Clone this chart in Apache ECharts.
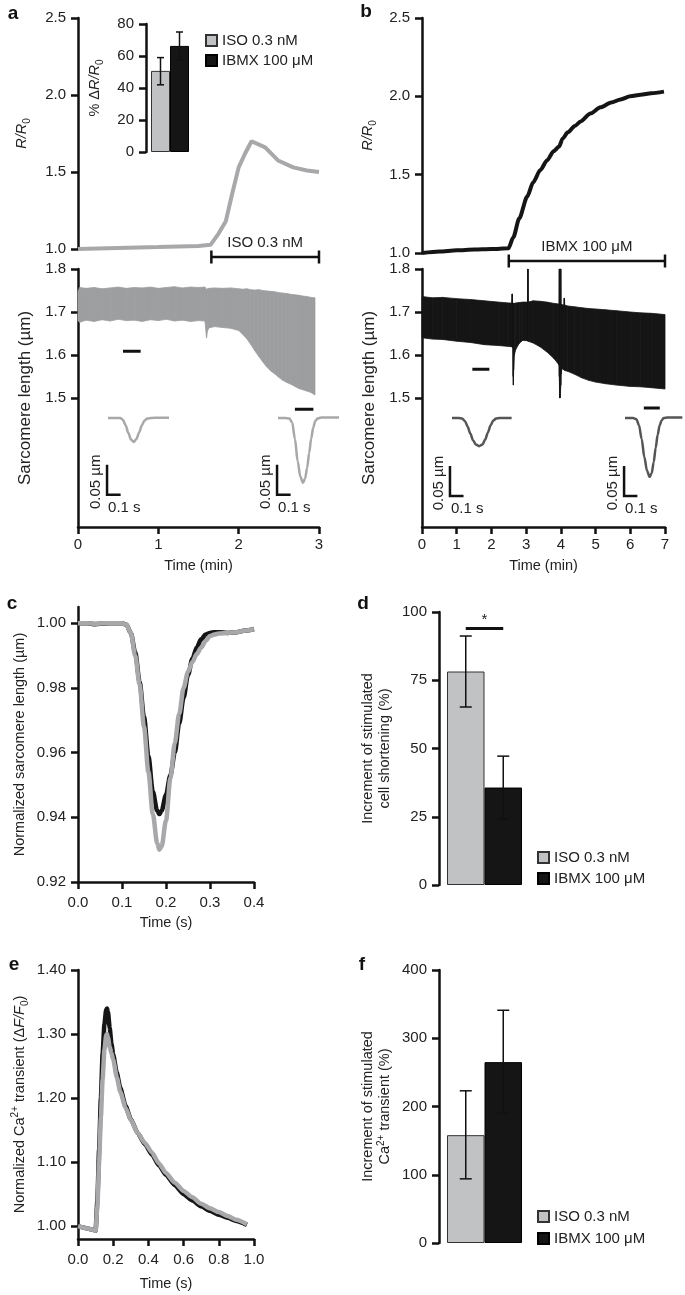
<!DOCTYPE html>
<html><head><meta charset="utf-8">
<script src="https://cdn.jsdelivr.net/npm/echarts@6/dist/echarts.min.js"></script>
<style>html,body{margin:0;padding:0;background:#fff}#c{width:685px;height:1295px}</style>
</head><body><div id="c"></div>
<script>
// ---------------- DATA ----------------
const treatments = ['ISO 0.3 nM', 'IBMX 100 μM'];

// Panel a (top): R/R0 during ISO
const aTime  = [0, 0.5, 1.0, 1.5, 1.65, 1.75, 1.84, 1.92, 2.0, 2.08, 2.16, 2.33, 2.49, 2.68, 2.85, 3.0];
const aRatio = [1.0, 1.007, 1.013, 1.02, 1.027, 1.10, 1.18, 1.36, 1.53, 1.62, 1.70, 1.66, 1.575, 1.53, 1.51, 1.50];
// Panel b (top): R/R0 during IBMX
const bTime  = [0, 0.5, 1.0, 1.5, 2.0, 2.49, 2.63, 2.8, 3.03, 3.2, 3.41, 3.6, 3.79, 3.95, 4.05, 4.2, 4.4, 4.57, 4.85, 5.14, 5.45, 5.72, 6.0, 6.3, 6.6, 6.97];
const bRatio = [1.0, 1.01, 1.017, 1.022, 1.025, 1.03, 1.10, 1.22, 1.36, 1.45, 1.53, 1.59, 1.65, 1.68, 1.73, 1.77, 1.81, 1.84, 1.89, 1.93, 1.96, 1.98, 2.0, 2.01, 2.02, 2.03];
const ratioTicks = [1.0, 1.5, 2.0, 2.5];
const aStim = [1.66, 3.0];
const bStim = [2.5, 7.0];

// Inset bar chart (% ΔR/R0)
const insetMean = [50.7, 66.3];
const insetLow  = [42, 57.5];
const insetHigh = [59, 75];
const insetTicks = [0, 20, 40, 60, 80];

// Sarcomere length envelopes [time (min), upper, lower]
const aBand = [
 [0,1.748,1.680],[0.02,1.757,1.676],[0.1,1.755,1.681],[0.2,1.757,1.678],[0.3,1.754,1.682],
 [0.4,1.756,1.679],[0.5,1.758,1.683],[0.6,1.755,1.680],[0.7,1.757,1.681],[0.8,1.756,1.678],
 [0.9,1.758,1.682],[1.0,1.755,1.680],[1.1,1.757,1.683],[1.2,1.759,1.679],[1.3,1.756,1.681],
 [1.4,1.758,1.678],[1.5,1.757,1.680],[1.58,1.758,1.679],[1.6,1.752,1.640],[1.61,1.754,1.655],
 [1.63,1.755,1.663],[1.7,1.756,1.666],[1.8,1.755,1.664],[1.9,1.756,1.662],[2.0,1.754,1.657],
 [2.05,1.753,1.648],[2.1,1.754,1.638],[2.15,1.752,1.625],[2.2,1.751,1.610],[2.25,1.752,1.597],
 [2.3,1.750,1.584],[2.35,1.749,1.572],[2.4,1.748,1.563],[2.45,1.747,1.556],[2.5,1.745,1.548],
 [2.55,1.744,1.541],[2.6,1.743,1.536],[2.65,1.741,1.532],[2.7,1.740,1.527],[2.75,1.739,1.522],
 [2.8,1.737,1.519],[2.85,1.736,1.516],[2.9,1.734,1.513],[2.95,1.733,1.507]
];
const bBand = [
 [0,1.736,1.640],[0.3,1.733,1.637],[0.6,1.734,1.636],[1.0,1.731,1.632],[1.4,1.729,1.629],
 [1.8,1.726,1.624],[2.2,1.723,1.622],[2.5,1.721,1.620],[2.59,1.721,1.619],[2.595,1.742,1.619],
 [2.605,1.742,1.618],[2.61,1.721,1.618],[2.62,1.720,1.617],[2.625,1.720,1.550],[2.632,1.720,1.530],
 [2.64,1.720,1.565],[2.66,1.720,1.600],[2.7,1.721,1.613],[2.8,1.722,1.627],[2.9,1.723,1.634],
 [3.04,1.723,1.633],[3.045,1.800,1.633],[3.055,1.800,1.632],[3.06,1.723,1.632],[3.2,1.726,1.628],
 [3.4,1.725,1.619],[3.6,1.723,1.607],[3.8,1.720,1.592],[3.9,1.719,1.582],[3.95,1.718,1.576],
 [3.955,1.800,1.550],[3.965,1.800,1.500],[3.98,1.800,1.500],[4.0,1.800,1.530],[4.005,1.718,1.555],
 [4.03,1.717,1.568],[4.09,1.716,1.566],[4.095,1.732,1.565],[4.105,1.732,1.565],[4.11,1.716,1.564],
 [4.2,1.714,1.562],[4.4,1.712,1.555],[4.6,1.710,1.547],[4.8,1.708,1.541],[5.0,1.707,1.537],
 [5.3,1.705,1.533],[5.6,1.703,1.530],[6.0,1.700,1.527],[6.3,1.698,1.526],[6.6,1.697,1.524],
 [7.0,1.694,1.521]
];
const sarcTicks = [1.5, 1.6, 1.7, 1.8];
const aMinTicks = [0, 1, 2, 3];
const bMinTicks = [0, 1, 2, 3, 4, 5, 6, 7];
// time-window markers [start, end, level]
const aMarkers = [[0.56, 0.78, 1.609], [2.70, 2.93, 1.474]];
const bMarkers = [[1.45, 1.94, 1.567], [6.39, 6.85, 1.477]];

// single twitches [time (s), Δ length (µm)]
const twitchAL = [[0,0],[0.06,0],[0.09,0],[0.11,-0.003],[0.13,-0.012],[0.15,-0.025],[0.17,-0.036],[0.19,-0.040],[0.21,-0.035],[0.23,-0.024],[0.25,-0.012],[0.27,-0.004],[0.29,-0.001],[0.32,0],[0.38,0.0005],[0.45,0.0005]];
const twitchAR = [[0,0],[0.05,0],[0.085,-0.001],[0.105,-0.008],[0.125,-0.035],[0.145,-0.072],[0.165,-0.098],[0.185,-0.108],[0.2,-0.101],[0.215,-0.083],[0.23,-0.058],[0.245,-0.034],[0.26,-0.016],[0.275,-0.005],[0.29,-0.001],[0.32,0.001],[0.45,0.001]];
const twitchBL = [[0,0],[0.05,0],[0.075,-0.001],[0.095,-0.005],[0.115,-0.014],[0.135,-0.026],[0.155,-0.037],[0.175,-0.044],[0.2,-0.047],[0.225,-0.044],[0.245,-0.036],[0.265,-0.024],[0.285,-0.012],[0.305,-0.004],[0.325,-0.001],[0.35,0],[0.44,0]];
const twitchBR = [[0,0],[0.06,0],[0.085,-0.002],[0.105,-0.012],[0.125,-0.035],[0.145,-0.065],[0.165,-0.088],[0.185,-0.098],[0.2,-0.092],[0.215,-0.074],[0.23,-0.05],[0.245,-0.028],[0.26,-0.012],[0.275,-0.004],[0.29,0],[0.32,0.001],[0.43,0.001]];
const scaleBar = [0.1, 0.05]; // s, µm
const scaleLabels = ['0.1 s', '0.05 µm'];

// Panel c: normalized sarcomere length
const cTime = [0,0.02,0.04,0.06,0.08,0.1,0.11,0.12,0.13,0.14,0.15,0.16,0.17,0.18,0.185,0.19,0.2,0.21,0.22,0.23,0.24,0.25,0.26,0.27,0.28,0.29,0.3,0.31,0.32,0.34,0.36,0.38,0.4];
const cIso  = [1.0,1.0,0.9998,1.0,1.0,1.0,0.9995,0.997,0.990,0.981,0.968,0.954,0.941,0.932,0.930,0.931,0.939,0.952,0.963,0.972,0.980,0.985,0.988,0.9905,0.9925,0.9945,0.996,0.9965,0.9968,0.997,0.9972,0.9977,0.9982];
const cIbmx = [1.0,1.0,0.9997,0.9999,1.0,1.0,0.9995,0.997,0.991,0.982,0.971,0.959,0.948,0.942,0.941,0.942,0.947,0.953,0.960,0.969,0.977,0.984,0.989,0.9925,0.995,0.9965,0.997,0.9972,0.9972,0.997,0.9972,0.9977,0.9982];
const cYTicks = [0.92, 0.94, 0.96, 0.98, 1.00];
const cXTicks = [0, 0.1, 0.2, 0.3, 0.4];

// Panel d: cell shortening increment
const dMean = [78.2, 35.7];
const dLow  = [65.2, 24.2];
const dHigh = [91.2, 47.2];
const dTicks = [0, 25, 50, 75, 100];
const dSig = 94;

// Panel e: Ca2+ transient
const eTime = [0,0.03,0.06,0.09,0.1,0.11,0.12,0.13,0.14,0.15,0.16,0.165,0.17,0.18,0.19,0.2,0.22,0.24,0.27,0.3,0.34,0.38,0.42,0.46,0.5,0.55,0.6,0.65,0.7,0.75,0.8,0.85,0.9,0.96];
const eIso  = [1.0,0.998,0.996,0.994,0.993,1.03,1.10,1.17,1.23,1.275,1.298,1.30,1.295,1.28,1.27,1.26,1.233,1.21,1.185,1.166,1.145,1.13,1.115,1.098,1.083,1.068,1.055,1.045,1.035,1.028,1.022,1.016,1.01,1.003];
const eIbmx = [1.0,0.998,0.996,0.994,0.993,1.04,1.12,1.20,1.27,1.315,1.338,1.34,1.335,1.31,1.285,1.268,1.24,1.216,1.188,1.167,1.145,1.128,1.112,1.095,1.08,1.064,1.05,1.04,1.031,1.024,1.018,1.013,1.008,1.002];
const eYTicks = [1.0, 1.1, 1.2, 1.3, 1.4];
const eXTicks = [0, 0.2, 0.4, 0.6, 0.8, 1.0];

// Panel f: Ca2+ transient increment
const fMean = [158, 265];
const fLow  = [94, 190];
const fHigh = [223, 341];
const fTicks = [0, 100, 200, 300, 400];

// ---------------- STYLE / LAYOUT ----------------
const FONT = '"Liberation Sans", Arial, Helvetica, sans-serif';
const FS = 14.5;   // names
const TFS = 15;    // tick labels / legend
const INK = '#111';
const TXT = '#222';
const GRAY_LINE = '#a8a8aa';
const GRAY_BAR = '#c1c2c4';
const BLACK = '#151515';
const TWITCH_B = '#555';

const grids = [
  {left:78,  top:18,  width:241, height:231},  // 0 a top
  {left:78,  top:269, width:241, height:258},  // 1 a bottom
  {left:422, top:18,  width:243, height:235},  // 2 b top
  {left:422, top:269, width:243, height:258},  // 3 b bottom
  {left:151, top:24,  width:38,  height:128},  // 4 inset bars
  {left:78,  top:607, width:176, height:275},  // 5 c
  {left:447, top:612, width:75,  height:273},  // 6 d
  {left:78,  top:970, width:176, height:273},  // 7 e
  {left:447, top:970, width:75,  height:273},  // 8 f
  {left:108, top:412, width:61,  height:90},   // 9 twitch a left
  {left:278, top:412, width:61,  height:90},   // 10 twitch a right
  {left:452, top:412, width:61,  height:90},   // 11 twitch b left
  {left:625, top:412, width:61,  height:90}    // 12 twitch b right
];
const scaleCorners = [[-0.007,-0.128],[-0.007,-0.128],[-0.015,-0.13],[-0.007,-0.13]];

const rich = {
  i: {fontStyle:'italic', fontSize:FS, fontFamily:FONT, color:TXT, lineHeight:20},
  s: {fontSize:10, fontFamily:FONT, color:TXT, verticalAlign:'bottom'},
  p: {fontSize:10, fontFamily:FONT, color:TXT, verticalAlign:'top'}
};
function nameStyle(lh, fs){ return {fontSize:fs||FS, fontFamily:FONT, color:TXT, lineHeight:lh||20, rich:rich}; }

function yAx(gi, min, max, ticks, fmt, extra){
  return Object.assign({
    gridIndex:gi, type:'value', min:min, max:max,
    axisLine:{show:true, onZero:false, lineStyle:{color:INK, width:2.5}},
    axisTick:{show:true, length:7, customValues:ticks, lineStyle:{color:INK, width:2.5}},
    axisLabel:{show:true, customValues:ticks, formatter:fmt, color:TXT, fontSize:TFS, fontFamily:FONT, margin:12},
    splitLine:{show:false}
  }, extra||{});
}
function xAx(gi, min, max, ticks, fmt, margin, extra){
  return Object.assign({
    gridIndex:gi, type:'value', min:min, max:max,
    axisLine:{show:true, onZero:false, lineStyle:{color:INK, width:2.5}},
    axisTick:{show:true, length:7, customValues:ticks, lineStyle:{color:INK, width:2.5}},
    axisLabel:{show:true, customValues:ticks, formatter:fmt, color:TXT, fontSize:TFS, fontFamily:FONT, margin:margin},
    splitLine:{show:false}
  }, extra||{});
}
function hidX(gi, min, max){ return {gridIndex:gi, type:'value', min:min, max:max, show:false, splitLine:{show:false}}; }
function hidY(gi, min, max){ return {gridIndex:gi, type:'value', min:min, max:max, show:false, splitLine:{show:false}}; }
function catX(gi){ return {gridIndex:gi, type:'category', data:treatments, show:false, boundaryGap:true}; }

const f1 = v => v.toFixed(1), f2 = v => v.toFixed(2), f0 = v => String(v);
const xName = (name, gap) => ({name:name, nameLocation:'middle', nameGap:gap, nameTextStyle:nameStyle()});

const xAxis = [
  hidX(0, 0, 3),
  xAx(1, 0, 3, aMinTicks, f0, 10, xName('Time (min)', 29)),
  hidX(2, 0, 7),
  xAx(3, 0, 7, bMinTicks, f0, 10, xName('Time (min)', 29)),
  catX(4),
  xAx(5, 0, 0.4, cXTicks, f1, 13, xName('Time (s)', 31)),
  catX(6),
  xAx(7, 0, 1.0, eXTicks, f1, 13, xName('Time (s)', 35)),
  catX(8),
  hidX(9, 0, 0.45), hidX(10, 0, 0.45), hidX(11, 0, 0.45), hidX(12, 0, 0.45)
];
const yName = (name, gap, lh, fs) => ({name:name, nameLocation:'middle', nameRotate:90, nameGap:gap, nameTextStyle:nameStyle(lh, fs)});
const yAxis = [
  yAx(0, 1.0, 2.5, ratioTicks, f1, yName('{i|R/R}{s|0}', 46)),
  yAx(1, 1.2, 1.8, sarcTicks, f1, yName('Sarcomere length (µm)', 43, 20, 17)),
  yAx(2, 1.0, 2.5, ratioTicks, f1, yName('{i|R/R}{s|0}', 44)),
  yAx(3, 1.2, 1.8, sarcTicks, f1, yName('Sarcomere length (µm)', 43, 20, 17)),
  yAx(4, 0, 80, insetTicks, f0, Object.assign({offset:5}, yName('% Δ{i|R/R}{s|0}', 41))),
  yAx(5, 0.92, 1.005, cYTicks, f2, yName('Normalized sarcomere length (µm)', 48)),
  yAx(6, 0, 100, dTicks, f0, Object.assign({offset:8}, yName('Increment of stimulated\ncell shortening (%)', 46, 17))),
  yAx(7, 0.98, 1.40, eYTicks, f2, yName('Normalized Ca{p|2+} transient (Δ{i|F/F}{s|0})', 48)),
  yAx(8, 0, 400, fTicks, f0, Object.assign({offset:8}, yName('Increment of stimulated\nCa{p|2+} transient (%)', 46, 17))),
  hidY(9, -0.14, 0.01), hidY(10, -0.14, 0.01), hidY(11, -0.14, 0.01), hidY(12, -0.14, 0.01)
];

// ---------------- RENDERERS ----------------
function bandRender(rows, color){
  return function(params, api){
    const i = params.dataIndex;
    if (i >= rows.length - 1) return null;
    const a = rows[i], b = rows[i+1];
    const pts = [api.coord([a[0], a[1]]), api.coord([b[0], b[1]]), api.coord([b[0], b[2]]), api.coord([a[0], a[2]])];
    return {type:'polygon', shape:{points:pts}, style:{fill:color, stroke:color, lineWidth:0.8}};
  };
}
function errRender(capHalf){
  return function(params, api){
    const lo = api.coord([api.value(0), api.value(1)]);
    const hi = api.coord([api.value(0), api.value(2)]);
    const st = {stroke:INK, lineWidth:1.5};
    return {type:'group', children:[
      {type:'line', shape:{x1:lo[0], y1:lo[1], x2:hi[0], y2:hi[1]}, style:st},
      {type:'line', shape:{x1:hi[0]-capHalf, y1:hi[1], x2:hi[0]+capHalf, y2:hi[1]}, style:st},
      {type:'line', shape:{x1:lo[0]-capHalf, y1:lo[1], x2:lo[0]+capHalf, y2:lo[1]}, style:st}
    ]};
  };
}
function stimRender(label){
  return function(params, api){
    const p0 = api.coord([api.value(0), api.value(2)]);
    const p1 = api.coord([api.value(1), api.value(2)]);
    const y = p0[1] + 8;
    const st = {stroke:INK, lineWidth:2.5};
    return {type:'group', children:[
      {type:'line', shape:{x1:p0[0], y1:y, x2:p1[0], y2:y}, style:st},
      {type:'line', shape:{x1:p0[0], y1:y-6.5, x2:p0[0], y2:y+6.5}, style:st},
      {type:'line', shape:{x1:p1[0], y1:y-6.5, x2:p1[0], y2:y+6.5}, style:st},
      {type:'text', x:(p0[0]+p1[0])/2, y:y-14, style:{text:label, align:'center', verticalAlign:'middle', font:TFS+'px '+FONT, fill:TXT}}
    ]};
  };
}
function scaleRender(params, api){
  const c = api.coord([api.value(0), api.value(1)]);
  const top = api.coord([api.value(0), api.value(1) + api.value(3)]);
  const right = api.coord([api.value(0) + api.value(2), api.value(1)]);
  return {type:'group', children:[
    {type:'polyline', shape:{points:[top, c, right]}, style:{stroke:INK, lineWidth:2.5, fill:null}},
    {type:'text', x:c[0]-11, y:c[1]-13, rotation:Math.PI/2, style:{text:scaleLabels[1], align:'center', verticalAlign:'middle', font:TFS+'px '+FONT, fill:TXT}},
    {type:'text', x:c[0]+1, y:c[1]+13, style:{text:scaleLabels[0], align:'left', verticalAlign:'middle', font:TFS+'px '+FONT, fill:TXT}}
  ]};
}

const zip = (xs, ys) => xs.map((x, i) => [x, ys[i]]);
const barStyleIso = {color:GRAY_BAR, borderColor:'#333', borderWidth:1};
const barStyleIbmx = {color:BLACK, borderColor:'#000', borderWidth:1};

function barPair(gi, mean, extraIso){
  return [
    Object.assign({type:'bar', name:treatments[0], xAxisIndex:gi, yAxisIndex:gi, data:[mean[0], '-'], itemStyle:barStyleIso, barGap:'-100%', barCategoryGap:'0%', silent:true}, extraIso||{}),
    {type:'bar', name:treatments[1], xAxisIndex:gi, yAxisIndex:gi, data:['-', mean[1]], itemStyle:barStyleIbmx, barGap:'-100%', barCategoryGap:'0%', silent:true}
  ];
}
function errSeries(gi, low, high, cap){
  return {type:'custom', xAxisIndex:gi, yAxisIndex:gi, renderItem:errRender(cap), encode:{x:0, y:[1,2]},
          data:low.map((l, i) => [i, l, high[i]]), z:5, silent:true};
}
function lineS(gi, data, color, width, smooth, z){
  return {type:'line', xAxisIndex:gi, yAxisIndex:gi, data:data, showSymbol:false, symbol:'none',
          smooth:smooth||false, smoothMonotone:'x', lineStyle:{color:color, width:width}, itemStyle:{color:color}, z:z||3, silent:true};
}
function markerSeries(gi, list){
  return list.map(m => lineS(gi, [[m[0], m[2]], [m[1], m[2]]], INK, 3, false, 4));
}

const series = [];
series.push(...barPair(4, insetMean));
series.push(errSeries(4, insetLow, insetHigh, 3.5));
series.push(...barPair(6, dMean, {markLine:{silent:true, symbol:['none','none'], animation:false,
  lineStyle:{color:INK, width:3, type:'solid'},
  label:{show:true, formatter:'*', position:'middle', color:TXT, fontSize:15, fontFamily:FONT, distance:1},
  data:[[{coord:[treatments[0], dSig]}, {coord:[treatments[1], dSig]}]]}}));
series.push(errSeries(6, dLow, dHigh, 6));
series.push(...barPair(8, fMean));
series.push(errSeries(8, fLow, fHigh, 6));

// top ratio traces
series.push(lineS(0, zip(aTime, aRatio), GRAY_LINE, 4));
series.push(lineS(2, zip(bTime, bRatio), BLACK, 4, 0.25));
series.push({type:'custom', xAxisIndex:0, yAxisIndex:0, renderItem:stimRender('ISO 0.3 nM'), encode:{x:[0,1], y:2}, data:[[aStim[0], aStim[1], 1.0]], silent:true});
series.push({type:'custom', xAxisIndex:2, yAxisIndex:2, renderItem:stimRender('IBMX 100 μM'), encode:{x:[0,1], y:2}, data:[[bStim[0], bStim[1], 1.0]], silent:true});

// sarcomere envelopes
series.push({type:'custom', xAxisIndex:1, yAxisIndex:1, renderItem:bandRender(aBand, '#9d9ea0'), encode:{x:0, y:[1,2]}, data:aBand, silent:true});
series.push({type:'custom', xAxisIndex:3, yAxisIndex:3, renderItem:bandRender(bBand, BLACK), encode:{x:0, y:[1,2]}, data:bBand, silent:true});
series.push(...markerSeries(1, aMarkers));
series.push(...markerSeries(3, bMarkers));

// twitch insets
series.push(lineS(9, twitchAL, GRAY_LINE, 2.5, 0.3));
series.push(lineS(10, twitchAR, GRAY_LINE, 2.5, 0.3));
series.push(lineS(11, twitchBL, TWITCH_B, 2.5, 0.3));
series.push(lineS(12, twitchBR, TWITCH_B, 2.5, 0.3));
[9, 10, 11, 12].forEach((gi, k) => {
  series.push({type:'custom', xAxisIndex:gi, yAxisIndex:gi, renderItem:scaleRender, encode:{x:0, y:1},
    data:[[scaleCorners[k][0], scaleCorners[k][1], scaleBar[0], scaleBar[1]]], silent:true});
});

// panel c and e traces
series.push(lineS(5, zip(cTime, cIbmx), BLACK, 4.5, 0.3));
series.push(lineS(5, zip(cTime, cIso), GRAY_LINE, 4.5, 0.3, 4));
series.push(lineS(7, zip(eTime, eIbmx), BLACK, 4.5, 0.2));
series.push(lineS(7, zip(eTime, eIso), GRAY_LINE, 4.5, 0.2, 4));

const legendBase = {orient:'vertical', icon:'rect', itemWidth:11, itemHeight:11, selectedMode:false,
  textStyle:{fontSize:TFS, fontFamily:FONT, color:TXT}, data:treatments, padding:0};
const legend = [
  Object.assign({left:205, top:33, itemGap:5}, legendBase),
  Object.assign({left:537, top:850, itemGap:6}, legendBase),
  Object.assign({left:537, top:1209, itemGap:7}, legendBase)
];

const letters = [['a',13,14],['b',366,12],['c',12,604],['d',363,604],['e',14,965],['f',362,965]];
const graphic = letters.map(l => ({type:'text', x:l[1], y:l[2], style:{text:l[0], font:'bold 19px '+FONT, fill:INK, align:'center', verticalAlign:'middle'}}));

const chart = echarts.init(document.getElementById('c'), null, {renderer:'canvas', width:685, height:1295});
chart.setOption({
  animation:false,
  backgroundColor:'#fff',
  grid: grids,
  xAxis: xAxis,
  yAxis: yAxis,
  legend: legend,
  graphic: graphic,
  series: series
});
</script></body></html>
